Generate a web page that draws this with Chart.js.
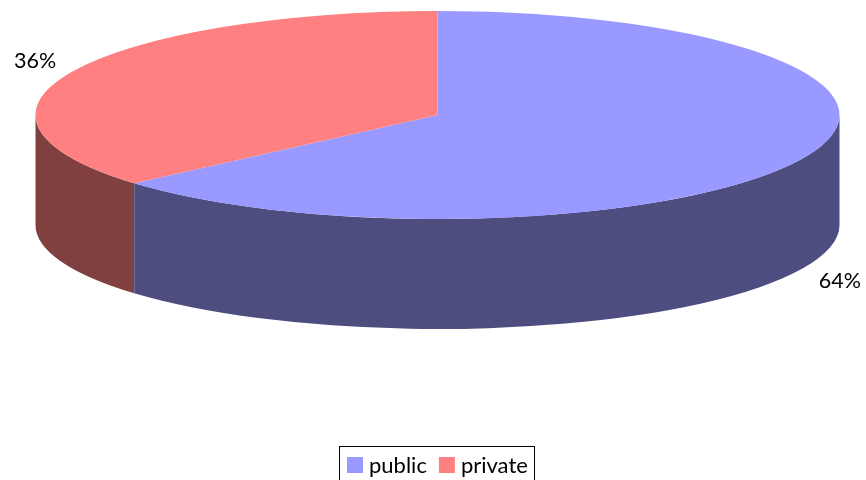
<!DOCTYPE html>
<html>
<head>
<meta charset="utf-8">
<style>html,body{margin:0;padding:0;background:#fff;overflow:hidden}canvas{display:block}</style>
<script src="https://cdn.jsdelivr.net/npm/chart.js@4/dist/chart.umd.min.js"></script>
</head>
<body>
<canvas id="c" width="866" height="480"></canvas>
<script>
const categories = ['public', 'private'];
const shares = [63.6, 36.4];
const topColors = ['#9999FF', '#FF8080'];
const sideColors = ['#4D4D80', '#804040'];

const disc = { cx: 437.5, cy: 115, rx: 402, ry: 104, depth: 110 };
const fontFamily = 'Lato, Carlito, sans-serif';

const pie3d = {
  id: 'pie3d',
  beforeDatasetsDraw(chart) {
    const ctx = chart.ctx;
    const arcs = chart.getDatasetMeta(0).data;
    const { cx, cy, rx, ry, depth } = disc;
    arcs.forEach((arc, i) => {
      const a = Math.max(arc.startAngle, 0);
      const b = Math.min(arc.endAngle, Math.PI);
      if (b <= a) return;
      ctx.beginPath();
      ctx.ellipse(cx, cy, rx, ry, 0, a, b, false);
      ctx.ellipse(cx, cy + depth, rx, ry, 0, b, a, true);
      ctx.closePath();
      ctx.fillStyle = sideColors[i];
      ctx.fill();
    });
    // seam between the two side walls
    const seam = arcs[0].endAngle;
    const sx = cx + rx * Math.cos(seam), sy = cy + ry * Math.sin(seam);
    ctx.beginPath();
    ctx.moveTo(Math.round(sx) + 0.5, sy);
    ctx.lineTo(Math.round(sx) + 0.5, sy + depth);
    ctx.strokeStyle = '#6F6A98';
    ctx.lineWidth = 1;
    ctx.stroke();
    // squash the library's pie into the top ellipse
    const a0 = arcs[0];
    ctx.save();
    ctx.translate(cx, cy);
    ctx.scale(rx / a0.outerRadius, ry / a0.outerRadius);
    ctx.translate(-a0.x, -a0.y);
  },
  afterDatasetsDraw(chart) {
    const ctx = chart.ctx;
    ctx.restore();
    const { cx, cy, rx, ry, depth } = disc;
    const arcs = chart.getDatasetMeta(0).data;
    const total = shares.reduce((s, v) => s + v, 0);
    ctx.font = '21.5px ' + fontFamily;
    ctx.fillStyle = '#000';
    ctx.textAlign = 'center';
    ctx.textBaseline = 'middle';
    arcs.forEach((arc, i) => {
      const mid = (arc.startAngle + arc.endAngle) / 2;
      const x = cx + 1.1 * rx * Math.cos(mid);
      const y = cy + 1.25 * ry * Math.sin(mid) + (Math.sin(mid) > 0 ? depth + 2 : 0);
      ctx.fillText(Math.round(shares[i] / total * 100) + '%', x, y);
    });
  },
  afterDraw(chart) {
    const ctx = chart.ctx;
    // legend frame (open at the bottom, cut by the page edge) and entries
    ctx.strokeStyle = '#000';
    ctx.lineWidth = 1;
    ctx.strokeRect(339.5, 446.5, 195, 40);
    ctx.font = '22px ' + fontFamily;
    ctx.textAlign = 'left';
    ctx.textBaseline = 'alphabetic';
    let x = 347;
    categories.forEach((name, i) => {
      ctx.fillStyle = topColors[i];
      ctx.fillRect(x, 457, 16, 16);
      ctx.fillStyle = '#000';
      ctx.fillText(name, x + 22, 473);
      x += 22 + ctx.measureText(name).width + 12;
    });
  }
};

new Chart(document.getElementById('c'), {
  type: 'pie',
  data: {
    labels: categories,
    datasets: [{ data: shares, backgroundColor: topColors, borderWidth: 0, hoverOffset: 0 }]
  },
  options: {
    responsive: false,
    animation: false,
    layout: { padding: 0 },
    plugins: {
      tooltip: { enabled: false },
      legend: { display: false }
    }
  },
  plugins: [pie3d]
});
</script>
</body>
</html>
